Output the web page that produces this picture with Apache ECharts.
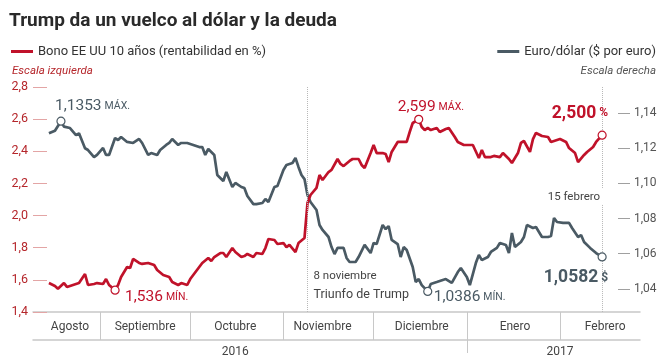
<!DOCTYPE html>
<html>
<head>
<meta charset="utf-8">
<script src="https://cdn.jsdelivr.net/npm/echarts@6/dist/echarts.min.js"></script>
<style>html,body{margin:0;padding:0;background:#fff}#c{width:664px;height:358px}</style>
</head>
<body>
<div id="c"></div>
<script>
// ---- data ----
const bondDates = ['2016-08-15','2016-08-17','2016-08-18','2016-08-20','2016-08-21','2016-08-23','2016-08-25','2016-08-27','2016-08-28','2016-08-30','2016-08-31',
'2016-09-02','2016-09-03','2016-09-04','2016-09-06','2016-09-07','2016-09-08','2016-09-10','2016-09-11','2016-09-12','2016-09-14','2016-09-15','2016-09-17','2016-09-19','2016-09-20','2016-09-22','2016-09-24','2016-09-25','2016-09-27','2016-09-28','2016-09-30',
'2016-10-01','2016-10-02','2016-10-04','2016-10-05','2016-10-07','2016-10-08','2016-10-09','2016-10-11','2016-10-12','2016-10-13','2016-10-15','2016-10-16','2016-10-18','2016-10-19','2016-10-20','2016-10-22','2016-10-23','2016-10-25','2016-10-26','2016-10-27','2016-10-29','2016-10-30',
'2016-11-01','2016-11-02','2016-11-03','2016-11-05','2016-11-06','2016-11-08','2016-11-09','2016-11-10','2016-11-12','2016-11-13','2016-11-14','2016-11-16','2016-11-17','2016-11-19','2016-11-20','2016-11-21','2016-11-23','2016-11-24','2016-11-26','2016-11-27','2016-11-28','2016-11-30',
'2016-12-01','2016-12-02','2016-12-04','2016-12-05','2016-12-06','2016-12-07','2016-12-09','2016-12-10','2016-12-12','2016-12-13','2016-12-14','2016-12-16','2016-12-17','2016-12-18','2016-12-19','2016-12-20','2016-12-22','2016-12-23','2016-12-25','2016-12-26','2016-12-28','2016-12-29','2016-12-31',
'2017-01-01','2017-01-03','2017-01-05','2017-01-06','2017-01-07','2017-01-09','2017-01-10','2017-01-12','2017-01-13','2017-01-15','2017-01-16','2017-01-18','2017-01-19','2017-01-20','2017-01-22','2017-01-23','2017-01-24','2017-01-26','2017-01-28','2017-01-29','2017-01-31',
'2017-02-01','2017-02-03','2017-02-04','2017-02-06','2017-02-07','2017-02-09','2017-02-10','2017-02-12','2017-02-13','2017-02-15'];
const bondValues = [1.580,1.562,1.545,1.580,1.556,1.568,1.580,1.636,1.568,1.574,1.580,
1.574,1.605,1.568,1.536,1.568,1.618,1.680,1.674,1.730,1.705,1.699,1.705,1.692,1.661,1.630,1.618,1.587,1.568,1.580,1.568,
1.605,1.630,1.680,1.705,1.736,1.717,1.742,1.767,1.767,1.742,1.798,1.773,1.742,1.748,1.761,1.742,1.767,1.761,1.798,1.854,1.848,1.823,
1.829,1.804,1.817,1.773,1.829,1.860,2.078,2.128,2.172,2.252,2.221,2.271,2.284,2.352,2.321,2.308,2.340,2.352,2.352,2.315,2.296,2.389,
2.439,2.389,2.389,2.383,2.333,2.396,2.458,2.458,2.458,2.520,2.576,2.599,2.551,2.532,2.545,2.532,2.545,2.520,2.539,2.545,2.489,2.458,2.439,
2.439,2.439,2.358,2.408,2.364,2.364,2.371,2.364,2.389,2.352,2.327,2.389,2.452,2.464,2.396,2.476,2.514,2.495,2.489,2.458,2.470,
2.476,2.458,2.420,2.389,2.333,2.377,2.396,2.427,2.458,2.500];

const euroDates = ['2016-08-15','2016-08-17','2016-08-19','2016-08-20','2016-08-22','2016-08-24','2016-08-25','2016-08-27','2016-08-28','2016-08-30','2016-08-31',
'2016-09-02','2016-09-03','2016-09-04','2016-09-06','2016-09-07','2016-09-08','2016-09-10','2016-09-12','2016-09-14','2016-09-15','2016-09-17','2016-09-18','2016-09-20','2016-09-21','2016-09-23','2016-09-24','2016-09-25','2016-09-27','2016-09-28','2016-09-30',
'2016-10-02','2016-10-04','2016-10-05','2016-10-06','2016-10-07','2016-10-09','2016-10-10','2016-10-12','2016-10-13','2016-10-15','2016-10-16','2016-10-18','2016-10-19','2016-10-20','2016-10-22','2016-10-23','2016-10-25','2016-10-26','2016-10-27','2016-10-29','2016-10-30',
'2016-11-01','2016-11-02','2016-11-04','2016-11-05','2016-11-06','2016-11-07','2016-11-08','2016-11-09','2016-11-10','2016-11-12','2016-11-13','2016-11-14','2016-11-16','2016-11-17','2016-11-18','2016-11-19','2016-11-21','2016-11-22','2016-11-23','2016-11-25','2016-11-26','2016-11-28','2016-11-30',
'2016-12-01','2016-12-02','2016-12-04','2016-12-05','2016-12-06','2016-12-07','2016-12-09','2016-12-10','2016-12-11','2016-12-12','2016-12-14','2016-12-15','2016-12-16','2016-12-17','2016-12-19','2016-12-20','2016-12-22','2016-12-24','2016-12-25','2016-12-27','2016-12-29','2016-12-30',
'2017-01-01','2017-01-02','2017-01-04','2017-01-05','2017-01-06','2017-01-08','2017-01-09','2017-01-11','2017-01-12','2017-01-14','2017-01-15','2017-01-16','2017-01-17','2017-01-19','2017-01-20','2017-01-21','2017-01-23','2017-01-24','2017-01-26','2017-01-28','2017-01-29','2017-01-30','2017-01-31',
'2017-02-02','2017-02-04','2017-02-05','2017-02-07','2017-02-08','2017-02-09','2017-02-11','2017-02-13','2017-02-15'];
const euroValues = [1.1284,1.1299,1.1353,1.1322,1.1314,1.1274,1.1284,1.1199,1.1189,1.1149,1.1161,
1.1201,1.1161,1.1161,1.1257,1.1246,1.1263,1.1235,1.1229,1.1252,1.1229,1.1161,1.1172,1.1161,1.1189,1.1218,1.1229,1.1252,1.1218,1.1229,1.1229,
1.1218,1.1206,1.1206,1.1161,1.1195,1.1161,1.1047,1.1013,1.1064,1.0979,1.1002,1.0979,1.0973,1.0928,1.0882,1.0882,1.0888,1.0911,1.0894,1.0979,1.0985,
1.1076,1.1104,1.1115,1.1144,1.1093,1.1047,1.1024,1.0934,1.0894,1.0848,1.0763,1.0735,1.0695,1.0638,1.0598,1.0633,1.0633,1.0576,1.0553,1.0553,1.0581,1.0650,1.0604,
1.0661,1.0655,1.0763,1.0740,1.0757,1.0678,1.0655,1.0581,1.0638,1.0621,1.0525,1.0439,1.0456,1.0422,1.0386,1.0428,1.0439,1.0451,1.0456,1.0434,1.0496,1.0519,
1.0468,1.0422,1.0547,1.0593,1.0564,1.0581,1.0610,1.0633,1.0661,1.0650,1.0604,1.0718,1.0638,1.0667,1.0695,1.0763,1.0746,1.0752,1.0695,1.0695,1.0701,1.0803,1.0780,
1.0775,1.0775,1.0746,1.0695,1.0706,1.0667,1.0633,1.0604,1.0582];

const leftTicks = [1.4, 1.6, 1.8, 2.0, 2.2, 2.4, 2.6, 2.8];
const rightTicks = [1.04, 1.06, 1.08, 1.10, 1.12, 1.14];
const monthBounds = ['2016-09-01','2016-10-01','2016-11-01','2016-12-01','2017-01-01','2017-02-01'];
const monthLabelDates = ['2016-08-22','2016-09-16','2016-10-16','2016-11-14','2016-12-17','2017-01-17','2017-02-16'];
const monthLabels = ['Agosto','Septiembre','Octubre','Noviembre','Diciembre','Enero','Febrero'];
const yearBounds = ['2017-01-01'];
const yearLabelDates = ['2016-10-16','2017-02-01'];
const yearLabels = ['2016','2017'];
const bondName = 'Bono EE UU 10 años (rentabilidad en %)';
const euroName = 'Euro/dólar ($ por euro)';

// ---- chart ----
const F = 'Roboto, "Liberation Sans", sans-serif';
const RED = '#c0122a', GRAY = '#4a5a64', TXT = '#444';
const t = s => { const p = s.split('-').map(Number); return Date.UTC(p[0], p[1] - 1, p[2]); };
const DAY = 864e5;
const xMin = t('2016-09-01') - 22.3 * DAY;
const xMax = t('2016-09-01') + 179.6 * DAY;
const fmt = (v, n) => v.toFixed(n).replace('.', ',');
const nearestIdx = (arr, v) => { let bi = 0, bd = Infinity; arr.forEach((s, i) => { const d = Math.abs(t(s) - v); if (d < bd) { bd = d; bi = i; } }); return bi; };

const bondData = bondDates.map((d, i) => [t(d), bondValues[i]]);
const euroData = euroDates.map((d, i) => [t(d), euroValues[i]]);
const lastB = bondData.length - 1, lastE = euroData.length - 1;

const richNum = (color, big, small, bold) => ({
  v: { fontSize: big, color, fontFamily: F, fontWeight: bold ? 'bold' : 'normal' },
  u: { fontSize: small, color, fontFamily: F, fontWeight: bold ? 'bold' : 'normal' }
});
const circle = (color) => ({ symbol: 'circle', symbolSize: 8, itemStyle: { color: '#fff', borderColor: color, borderWidth: 1.2 } });
const textPt = (coord, text, size, align, offset) => ({
  coord, value: coord[1], symbol: 'circle', symbolSize: 0, itemStyle: { color: 'rgba(0,0,0,0)' },
  label: { show: true, position: 'inside', align, verticalAlign: 'middle', offset, formatter: text, fontSize: size, color: TXT, fontFamily: F }
});

const chart = echarts.init(document.getElementById('c'), null, { renderer: 'canvas' });
chart.setOption({
  animation: false,
  backgroundColor: '#fff',
  textStyle: { fontFamily: F },
  title: [
    { text: 'Trump da un vuelco al dólar y la deuda', left: 4, top: 7, textStyle: { fontSize: 19, fontWeight: 'bold', color: '#2a2a2a', fontFamily: F } },
    { text: 'Escala izquierda', left: 7, top: 60, textStyle: { fontSize: 11.5, fontWeight: 'normal', fontStyle: 'italic', color: '#b5262b', fontFamily: F } },
    { text: 'Escala derecha', right: 3, top: 60, textStyle: { fontSize: 11.5, fontWeight: 'normal', fontStyle: 'italic', color: '#555', fontFamily: F } }
  ],
  legend: [
    { data: [bondName], left: 6, top: 40, icon: 'rect', itemWidth: 22, itemHeight: 3, selectedMode: false, textStyle: { fontSize: 13, color: '#333', fontFamily: F } },
    { data: [euroName], right: 3, top: 40, icon: 'rect', itemWidth: 22, itemHeight: 3, selectedMode: false, textStyle: { fontSize: 13, color: '#333', fontFamily: F } }
  ],
  grid: { left: 33, right: 24, top: 87, bottom: 46, containLabel: false },
  xAxis: [
    {
      type: 'value', min: xMin, max: xMax, position: 'bottom',
      axisLine: { show: true, lineStyle: { color: '#c8c8c8', width: 1.5 } },
      axisTick: { show: true, inside: false, length: 28, customValues: monthBounds.map(t), lineStyle: { color: '#c8c8c8' } },
      axisLabel: { show: true, margin: 9, customValues: monthLabelDates.map(t), formatter: v => monthLabels[nearestIdx(monthLabelDates, v)], fontSize: 12, color: TXT, fontFamily: F },
      splitLine: { show: false }
    },
    {
      type: 'value', min: xMin, max: xMax, position: 'bottom', offset: 28,
      axisLine: { show: true, lineStyle: { color: '#c8c8c8', width: 1.5 } },
      axisTick: { show: true, inside: false, length: 13, customValues: yearBounds.map(t), lineStyle: { color: '#c8c8c8' } },
      axisLabel: { show: true, margin: 6, customValues: yearLabelDates.map(t), formatter: v => yearLabels[nearestIdx(yearLabelDates, v)], fontSize: 12, color: TXT, fontFamily: F },
      splitLine: { show: false }
    }
  ],
  yAxis: [
    {
      type: 'value', position: 'left', min: leftTicks[0], max: leftTicks[leftTicks.length - 1], interval: 0.2,
      axisLine: { show: false },
      axisTick: { show: true, inside: true, length: 14, lineStyle: { color: '#e3a5a5', width: 1 } },
      axisLabel: { margin: 5, formatter: v => fmt(v, 1), fontSize: 12.5, color: '#b5262b', fontFamily: F },
      splitLine: { show: false }
    },
    {
      type: 'value', position: 'right', offset: -10, min: 1.0269, max: 1.1547,
      axisLine: { show: false },
      axisTick: { show: true, inside: true, length: 12, customValues: rightTicks, lineStyle: { color: '#a0a0a0', width: 1 } },
      axisLabel: { margin: 4, customValues: rightTicks, formatter: v => fmt(v, 2), fontSize: 12, color: '#555', fontFamily: F },
      splitLine: { show: false }
    }
  ],
  series: [
    {
      name: bondName, type: 'line', xAxisIndex: 0, yAxisIndex: 0, data: bondData,
      showSymbol: false, silent: true, z: 3,
      lineStyle: { color: RED, width: 2.7 }, itemStyle: { color: RED },
      markLine: {
        silent: true, symbol: ['none', 'none'], label: { show: false },
        lineStyle: { color: '#b8b8b8', type: 'dotted', width: 1 },
        data: [
          { xAxis: t('2016-11-09') },
          [{ coord: [t('2017-02-15'), 2.8] }, { coord: [t('2017-02-15'), 2.172] }],
          [{ coord: [t('2017-02-15'), 2.066] }, { coord: [t('2017-02-15'), 1.4] }]
        ]
      },
      markPoint: {
        silent: true,
        data: [
          Object.assign({ type: 'max', label: { show: true, position: 'inside', align: 'left', verticalAlign: 'middle', offset: [-21, -12], formatter: p => `{v|${fmt(p.value, 3)}} {u|MÁX.}`, rich: richNum(RED, 15.5, 10.5) } }, circle(RED)),
          Object.assign({ type: 'min', label: { show: true, position: 'inside', align: 'left', verticalAlign: 'middle', offset: [10, 7], formatter: p => `{v|${fmt(p.value, 3)}} {u|MÍN.}`, rich: richNum(RED, 15.5, 10.5) } }, circle(RED)),
          Object.assign({ coord: bondData[lastB], value: bondValues[lastB], label: { show: true, position: 'inside', align: 'right', verticalAlign: 'middle', offset: [6, -22], formatter: p => `{v|${fmt(p.value, 3)}} {u|%}`, rich: richNum(RED, 17.5, 12, true) } }, circle(RED)),
          textPt([t('2016-11-09'), 1.624], '8 noviembre', 11.5, 'left', [6, 0]),
          textPt([t('2016-11-09'), 1.506], 'Triunfo de Trump', 12.5, 'left', [6, 0]),
          textPt([t('2017-02-15'), 2.116], '15 febrero', 11.5, 'right', [-2, 0])
        ]
      }
    },
    {
      name: euroName, type: 'line', xAxisIndex: 0, yAxisIndex: 1, data: euroData,
      showSymbol: false, silent: true, z: 2,
      lineStyle: { color: GRAY, width: 2.7 }, itemStyle: { color: GRAY },
      markPoint: {
        silent: true,
        data: [
          Object.assign({ type: 'max', label: { show: true, position: 'inside', align: 'left', verticalAlign: 'middle', offset: [-6, -15], formatter: p => `{v|${fmt(p.value, 4)}} {u|MÁX.}`, rich: richNum(GRAY, 15.5, 10.5) } }, circle(GRAY)),
          Object.assign({ type: 'min', label: { show: true, position: 'inside', align: 'left', verticalAlign: 'middle', offset: [6, 6], formatter: p => `{v|${fmt(p.value, 4)}} {u|MÍN.}`, rich: richNum(GRAY, 15.5, 10.5) } }, circle(GRAY)),
          Object.assign({ coord: euroData[lastE], value: euroValues[lastE], label: { show: true, position: 'inside', align: 'right', verticalAlign: 'middle', offset: [6, 21], formatter: p => `{v|${fmt(p.value, 4)}} {u|$}`, rich: richNum(GRAY, 17.5, 12, true) } }, circle(GRAY))
        ]
      }
    }
  ]
});
</script>
</body>
</html>
